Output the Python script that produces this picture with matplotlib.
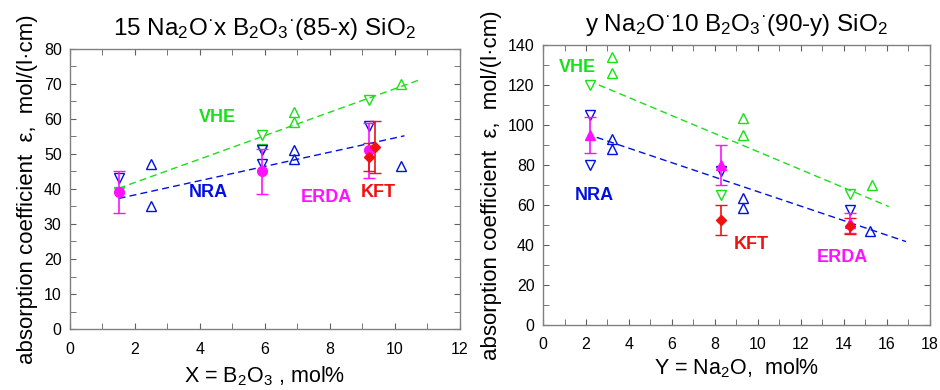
import matplotlib
matplotlib.use("Agg")
import matplotlib.pyplot as plt
from matplotlib.ticker import MultipleLocator

plt.rcParams['font.family'] = ['Liberation Sans', 'DejaVu Sans']
plt.rcParams['mathtext.default'] = 'regular'

GREEN = '#19e019'
BLUE = '#0010e0'
MAGENTA = '#ff10ff'
RED = '#f01010'

# ---- left panel: 15 Na2O x B2O3 (85-x) SiO2
L_vhe_up_x = [6.9, 6.9, 10.2]
L_vhe_up_y = [62, 59, 70]
L_vhe_dn_x = [1.5, 5.9, 5.9, 9.2]
L_vhe_dn_y = [39, 55.5, 51.5, 65.5]
L_nra_up_x = [2.5, 2.5, 6.9, 6.9, 10.2]
L_nra_up_y = [47, 35, 51, 48.5, 46.5]
L_nra_dn_x = [1.5, 5.9, 5.9, 9.2]
L_nra_dn_y = [43, 51, 47, 58]
L_erda_x = [1.5, 5.9, 9.2]
L_erda_y = [39, 45, 51]
L_erda_err = [6, 6.3, 7.8]
L_kft_x = [9.2, 9.4]
L_kft_y = [49, 52]
L_kft_err = [4, 7.5]
L_vhe_fit_x = [1.5, 10.8]
L_vhe_fit_y = [40.2, 71.3]
L_nra_fit_x = [1.5, 10.3]
L_nra_fit_y = [37.3, 55.2]

# ---- right panel: y Na2O 10 B2O3 (90-y) SiO2
R_vhe_up_x = [3.2, 3.2, 9.3, 9.3, 15.3]
R_vhe_up_y = [134, 126, 103.5, 95, 70]
R_vhe_dn_x = [2.2, 8.3, 14.3]
R_vhe_dn_y = [120, 65, 65.5]
R_nra_up_x = [3.2, 3.2, 9.3, 9.3, 15.2]
R_nra_up_y = [93, 88, 63.5, 58.5, 47]
R_nra_dn_x = [2.2, 2.2, 8.3, 14.3]
R_nra_dn_y = [105, 80, 77, 57.5]
R_erda_x = [2.2, 8.3, 14.3]
R_erda_y = [95, 80, 51]
R_erda_err = [9, 10, 5]
R_kft_x = [8.3, 14.3]
R_kft_y = [52.5, 49.5]
R_kft_err = [7.5, 4]
R_vhe_fit_x = [2.6, 16.1]
R_vhe_fit_y = [120, 59.2]
R_nra_fit_x = [2.5, 16.9]
R_nra_fit_y = [93.8, 41.7]

ylab = 'absorption coefficient  \u03b5,  mol/(l\u00b7cm)'

fig = plt.figure(figsize=(9.4, 3.9), dpi=100)
ax1 = fig.add_axes([0.0745, 0.1564, 0.4145, 0.718])
ax2 = fig.add_axes([0.5777, 0.1667, 0.4113, 0.718])


def style(ax):
    for s in ax.spines.values():
        s.set_color('#808080')
        s.set_linewidth(1.0)
    ax.tick_params(which='both', direction='in', top=True, right=True,
                   color='#606060', labelsize=11.5)
    ax.tick_params(axis='x', pad=9)
    ax.tick_params(axis='y', pad=6)
    ax.tick_params(which='major', length=4)
    ax.tick_params(which='minor', length=4)


def panel(ax, d):
    dash = (0, (5, 3))
    ax.plot(d['vfx'], d['vfy'], color=GREEN, lw=1, ls=dash)
    ax.plot(d['nfx'], d['nfy'], color=BLUE, lw=1, ls=dash)
    ax.plot(d['vux'], d['vuy'], ls='none', marker='^', ms=7.5, mfc='none', mec=GREEN, mew=1)
    ax.plot(d['vdx'], d['vdy'], ls='none', marker='v', ms=7.5, mfc='none', mec=GREEN, mew=1)
    ax.plot(d['nux'], d['nuy'], ls='none', marker='^', ms=7.5, mfc='none', mec=BLUE, mew=1)
    ax.plot(d['ndx'], d['ndy'], ls='none', marker='v', ms=7.5, mfc='none', mec=BLUE, mew=1)
    ax.errorbar(d['ex'], d['ey'], yerr=d['ee'], ls='none', marker=d['em'], ms=7,
                color=MAGENTA, ecolor=MAGENTA, elinewidth=1.2, capsize=4)
    ax.errorbar(d['kx'], d['ky'], yerr=d['ke'], ls='none', marker='D', ms=5.5,
                color=RED, ecolor=RED, elinewidth=1.2, capsize=4)


panel(ax1, dict(vfx=L_vhe_fit_x, vfy=L_vhe_fit_y, nfx=L_nra_fit_x, nfy=L_nra_fit_y,
                vux=L_vhe_up_x, vuy=L_vhe_up_y, vdx=L_vhe_dn_x, vdy=L_vhe_dn_y,
                nux=L_nra_up_x, nuy=L_nra_up_y, ndx=L_nra_dn_x, ndy=L_nra_dn_y,
                ex=L_erda_x, ey=L_erda_y, ee=L_erda_err, em='o',
                kx=L_kft_x, ky=L_kft_y, ke=L_kft_err))
panel(ax2, dict(vfx=R_vhe_fit_x, vfy=R_vhe_fit_y, nfx=R_nra_fit_x, nfy=R_nra_fit_y,
                vux=R_vhe_up_x, vuy=R_vhe_up_y, vdx=R_vhe_dn_x, vdy=R_vhe_dn_y,
                nux=R_nra_up_x, nuy=R_nra_up_y, ndx=R_nra_dn_x, ndy=R_nra_dn_y,
                ex=R_erda_x, ey=R_erda_y, ee=R_erda_err, em='^',
                kx=R_kft_x, ky=R_kft_y, ke=R_kft_err))

ax1.set_xlim(0, 12)
ax1.set_ylim(0, 80)
ax1.xaxis.set_major_locator(MultipleLocator(2))
ax1.xaxis.set_minor_locator(MultipleLocator(1))
ax1.yaxis.set_major_locator(MultipleLocator(10))
ax1.yaxis.set_minor_locator(MultipleLocator(5))
style(ax1)
ax1.set_title('15 Na$_2$O$^{\u00b7}$x B$_2$O$_3$$^{\u00b7}$(85-x) SiO$_2$', fontsize=17.5, pad=10)
ax1.set_xlabel('X = B$_2$O$_3$ , mol%', fontsize=15.5, labelpad=6)
ax1.set_ylabel(ylab, fontsize=16, labelpad=4)

ax2.set_xlim(0, 18)
ax2.set_ylim(0, 140)
ax2.xaxis.set_major_locator(MultipleLocator(2))
ax2.xaxis.set_minor_locator(MultipleLocator(1))
ax2.yaxis.set_major_locator(MultipleLocator(20))
ax2.yaxis.set_minor_locator(MultipleLocator(10))
style(ax2)
ax2.set_title('y Na$_2$O$^{\u00b7}$10 B$_2$O$_3$$^{\u00b7}$(90-y) SiO$_2$', fontsize=17.5, pad=10)
ax2.set_xlabel('Y = Na$_2$O,  mol%', fontsize=15.5, labelpad=3)
ax2.set_ylabel(ylab, fontsize=16, labelpad=4)

kw = dict(fontsize=13, fontweight='bold', ha='center', va='center')
ax1.text(4.55, 60.3, 'VHE', color=GREEN, **kw)
ax1.text(4.25, 39.1, 'NRA', color=BLUE, **kw)
ax1.text(7.9, 37.7, 'ERDA', color=MAGENTA, **kw)
ax1.text(9.5, 39.1, 'KFT', color=RED, **kw)
ax2.text(1.6, 128.5, 'VHE', color=GREEN, **kw)
ax2.text(2.4, 64.5, 'NRA', color=BLUE, **kw)
ax2.text(9.7, 40, 'KFT', color=RED, **kw)
ax2.text(13.95, 33.5, 'ERDA', color=MAGENTA, **kw)

fig.savefig('out.png', dpi=100)
